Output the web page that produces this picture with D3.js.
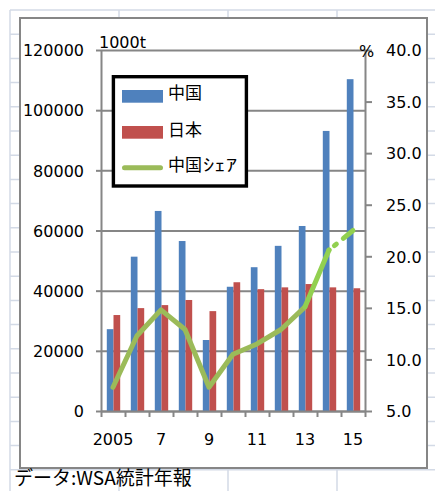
<!DOCTYPE html>
<html>
<head>
<meta charset="utf-8">
<script src="https://cdn.jsdelivr.net/npm/d3@7"></script>
<style>
  html, body { margin: 0; padding: 0; background: #fff; }
  svg { display: block; }
  .num { font-family: "DejaVu Sans", sans-serif; font-size: 16px; fill: #000; }
  .jp { font-family: "Noto Sans CJK JP", sans-serif; fill: #000; }
</style>
</head>
<body>
<script>
// Steel exports of China and Japan (1000 t) and China's share (%)
const years = ["2005", "2006", "2007", "2008", "2009", "2010", "2011", "2012", "2013", "2014", "2015"];
const yearLabels = ["2005", "", "7", "", "9", "", "11", "", "13", "", "15"];
const chinaExports = [27200, 51300, 66500, 56500, 23600, 41300, 47800, 54900, 61500, 93100, 110300];
const japanExports = [31900, 34200, 35200, 36900, 33200, 42800, 40500, 41100, 42200, 41100, 40800];
const chinaShare = [7.3, 12.3, 14.8, 12.9, 7.3, 10.5, 11.5, 12.9, 15.1, 20.6, 22.5];
const leftTicks = [0, 20000, 40000, 60000, 80000, 100000, 120000];
const rightTicks = [5, 10, 15, 20, 25, 30, 35, 40];
const legendLabels = ["中国", "日本", "中国"];

const W = 435, H = 491;
const plot = { left: 101, right: 365, top: 50, bottom: 411 };
const colors = { china: "#4F81BD", japan: "#C0504D", share: "#9BBB59", shareLate: "#92D050", axis: "#868686", sheet: "#D3DAE6" };

const svg = d3.select("body").append("svg").attr("width", W).attr("height", H);

// worksheet cell grid behind the chart object
const sheet = svg.append("g");
const colX = [10, 119, 228, 337];
const rowY = d3.range(0, 21).map(k => 10 + k * 24.2);
sheet.selectAll("line.c").data(colX).join("line")
  .attr("x1", d => d).attr("x2", d => d).attr("y1", 10).attr("y2", H)
  .attr("stroke", colors.sheet).attr("stroke-width", 1.5);
sheet.selectAll("line.r").data(rowY).join("line")
  .attr("x1", 10).attr("x2", W).attr("y1", d => d).attr("y2", d => d)
  .attr("stroke", colors.sheet).attr("stroke-width", 1.5);

// chart frame
svg.append("rect").attr("x", 20).attr("y", 18).attr("width", 407).attr("height", 450)
  .attr("fill", "#fff").attr("stroke", colors.axis).attr("stroke-width", 2);

// scales
const x = d3.scaleBand().domain(years).range([plot.left, plot.right]).padding(0);
const xEdge = d3.scaleLinear().domain([0, years.length]).range([plot.left, plot.right]);
const sub = d3.scaleBand().domain(["china", "japan"]).range([0, 13.4]).padding(0);
const yL = d3.scaleLinear().domain([0, 120000]).range([plot.bottom, plot.top]);
const yR = d3.scaleLinear().domain([5, 40]).range([plot.bottom, plot.top]);
const groupOffset = (x.bandwidth() - 13.4) / 2 + 0.5;

function styleAxis(g) {
  g.selectAll("path.domain").attr("stroke", colors.axis).attr("stroke-width", 2);
  g.selectAll(".tick line").attr("stroke", colors.axis).attr("stroke-width", 2);
  g.selectAll("text").attr("class", "num").attr("fill", "#000");
}

// horizontal gridlines
svg.append("g").attr("transform", `translate(${plot.left},0)`)
  .call(d3.axisLeft(yL).tickValues(leftTicks).tickSize(-(plot.right - plot.left)).tickFormat(""))
  .call(g => g.select(".domain").remove())
  .call(styleAxis);

// bars
const bars = svg.append("g");
years.forEach((yr, i) => {
  bars.append("rect")
    .attr("x", x(yr) + groupOffset + sub("china")).attr("width", sub.bandwidth())
    .attr("y", yL(chinaExports[i])).attr("height", yL(0) - yL(chinaExports[i]))
    .attr("fill", colors.china);
  bars.append("rect")
    .attr("x", x(yr) + groupOffset + sub("japan")).attr("width", sub.bandwidth())
    .attr("y", yL(japanExports[i])).attr("height", yL(0) - yL(japanExports[i]))
    .attr("fill", colors.japan);
});

// left axis
svg.append("g").attr("transform", `translate(${plot.left},0)`)
  .call(d3.axisLeft(yL).tickValues(leftTicks).tickSize(5).tickSizeOuter(0).tickPadding(12).tickFormat(d3.format("d")))
  .call(styleAxis)
  .call(g => g.selectAll("text").attr("dy", "0.36em"));

// right axis
svg.append("g").attr("transform", `translate(${plot.right},0)`)
  .call(d3.axisRight(yR).tickValues(rightTicks).tickSize(7).tickSizeOuter(0).tickPadding(14).tickFormat(d3.format(".1f")))
  .call(styleAxis)
  .call(g => g.selectAll("text").attr("dy", "0.36em"));

// bottom axis: tick marks on category edges, labels centred in each category
svg.append("g").attr("transform", `translate(0,${plot.bottom})`)
  .call(d3.axisBottom(xEdge).tickValues(d3.range(0, years.length + 1)).tickSize(6).tickSizeOuter(0).tickFormat(""))
  .call(styleAxis);
svg.append("g").attr("transform", `translate(0,${plot.bottom})`)
  .call(d3.axisBottom(x).tickSize(0).tickPadding(22.6).tickFormat((d, i) => yearLabels[i]))
  .call(g => g.select(".domain").remove())
  .call(styleAxis);

// share line
const cx = i => x(years[i]) + x.bandwidth() / 2;
const line = d3.line().x(d => cx(d)).y(d => yR(chinaShare[d]));
const shareG = svg.append("g").attr("fill", "none").attr("stroke-width", 5)
  .attr("stroke-linejoin", "round").attr("stroke-linecap", "round");
shareG.append("path").attr("d", line(d3.range(0, 9))).attr("stroke", colors.share);
shareG.append("path").attr("d", line([8, 9])).attr("stroke", colors.shareLate);
shareG.append("path").attr("d", line([9, 10])).attr("stroke", colors.shareLate)
  .attr("stroke-dasharray", "0,7,2.5,9,40");

// unit labels
svg.append("text").attr("class", "num").attr("x", 99).attr("y", 48).text("1000t");
svg.append("text").attr("class", "num").attr("x", 359).attr("y", 57).text("%");

// legend
const lg = svg.append("g");
lg.append("rect").attr("x", 113.4).attr("y", 76.7).attr("width", 133).attr("height", 109.3)
  .attr("fill", "#fff").attr("stroke", "#000").attr("stroke-width", 3.4);
lg.append("rect").attr("x", 122).attr("y", 90).attr("width", 41).attr("height", 12.7).attr("fill", colors.china);
lg.append("rect").attr("x", 122).attr("y", 126).attr("width", 41).attr("height", 12.7).attr("fill", colors.japan);
lg.append("line").attr("x1", 124.5).attr("x2", 160.5).attr("y1", 167.7).attr("y2", 167.7)
  .attr("stroke", colors.share).attr("stroke-width", 5).attr("stroke-linecap", "round");
[99, 135.5, 171].forEach((yy, i) => {
  lg.append("text").attr("class", "jp").attr("x", 168).attr("y", yy)
    .attr("font-size", 17).text(legendLabels[i]);
});
// half-width katakana suffix of the share entry, set a little wider
lg.append("text").attr("class", "jp").attr("x", 203).attr("y", 171)
  .attr("font-size", 17).attr("textLength", 34).attr("lengthAdjust", "spacingAndGlyphs")
  .text("ｼｪｱ");

// source note
svg.append("text").attr("class", "jp").attr("x", 14).attr("y", 485)
  .attr("font-size", 19).text("データ:WSA統計年報");
</script>
</body>
</html>
